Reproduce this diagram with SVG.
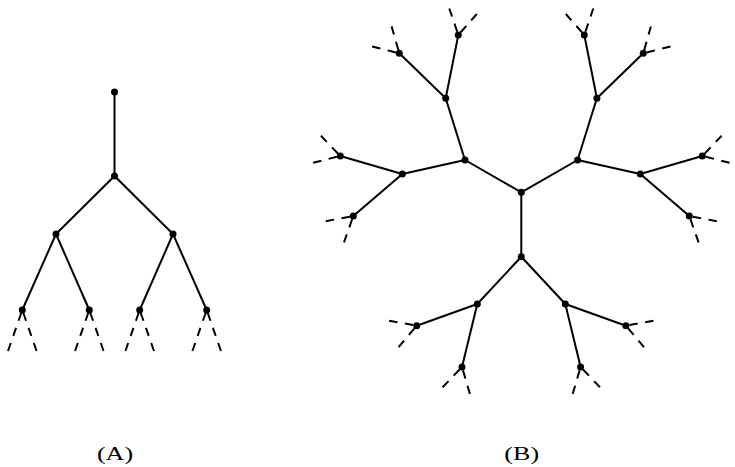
<svg xmlns="http://www.w3.org/2000/svg" width="735" height="467" viewBox="0 0 735 467">
<style>
.e{stroke:#000;stroke-width:2;fill:none;stroke-linecap:butt}
.d{stroke:#000;stroke-width:2;fill:none;stroke-dasharray:8.5 7.5}
.n{fill:#000}
.t{font-family:"Liberation Serif","Times New Roman",serif;font-size:19.3px;fill:#000;text-anchor:middle}
</style>
<rect width="735" height="467" fill="#fff"/>
<g id="connectors">
<!-- Tree A -->
<line class="e" x1="114.5" y1="92" x2="114.5" y2="176"/>
<line class="e" x1="114.5" y1="176" x2="56" y2="234"/>
<line class="e" x1="114.5" y1="176" x2="173" y2="234"/>
<line class="e" x1="56" y1="234" x2="22.3" y2="310"/>
<line class="e" x1="56" y1="234" x2="89.3" y2="310"/>
<line class="e" x1="173" y1="234" x2="139.7" y2="310"/>
<line class="e" x1="173" y1="234" x2="206.7" y2="310"/>
<line class="d" x1="8" y1="351" x2="22.3" y2="310"/>
<line class="d" x1="36.6" y1="351" x2="22.3" y2="310"/>
<line class="d" x1="75" y1="351" x2="89.3" y2="310"/>
<line class="d" x1="103.6" y1="351" x2="89.3" y2="310"/>
<line class="d" x1="125.4" y1="351" x2="139.7" y2="310"/>
<line class="d" x1="154" y1="351" x2="139.7" y2="310"/>
<line class="d" x1="192.4" y1="351" x2="206.7" y2="310"/>
<line class="d" x1="221" y1="351" x2="206.7" y2="310"/>
<!-- Tree B -->
<line class="e" x1="521.3" y1="192.3" x2="521.3" y2="256.7"/>
<line class="e" x1="521.3" y1="192.3" x2="465" y2="160"/>
<line class="e" x1="521.3" y1="192.3" x2="577.6" y2="160"/>
<line class="e" x1="465" y1="160" x2="445.7" y2="98.3"/>
<line class="e" x1="465" y1="160" x2="402.3" y2="174"/>
<line class="e" x1="445.7" y1="98.3" x2="458.3" y2="35"/>
<line class="e" x1="445.7" y1="98.3" x2="399.3" y2="53.3"/>
<line class="e" x1="402.3" y1="174" x2="340.3" y2="156"/>
<line class="e" x1="402.3" y1="174" x2="353.3" y2="216"/>
<line class="e" x1="577.6" y1="160" x2="596.9" y2="98.3"/>
<line class="e" x1="577.6" y1="160" x2="640.3" y2="174"/>
<line class="e" x1="596.9" y1="98.3" x2="584.3" y2="35"/>
<line class="e" x1="596.9" y1="98.3" x2="643.3" y2="53.3"/>
<line class="e" x1="640.3" y1="174" x2="702.3" y2="156"/>
<line class="e" x1="640.3" y1="174" x2="689.3" y2="216"/>
<line class="e" x1="521.3" y1="256.7" x2="477.3" y2="304"/>
<line class="e" x1="521.3" y1="256.7" x2="565.3" y2="304"/>
<line class="e" x1="477.3" y1="304" x2="416.7" y2="325.7"/>
<line class="e" x1="477.3" y1="304" x2="462" y2="367"/>
<line class="e" x1="565.3" y1="304" x2="625.9" y2="325.7"/>
<line class="e" x1="565.3" y1="304" x2="580.6" y2="367"/>
<line class="d" x1="476.8" y1="14" x2="458.3" y2="35"/>
<line class="d" x1="449.3" y1="8.5" x2="458.3" y2="35"/>
<line class="d" x1="391.6" y1="26.4" x2="399.3" y2="53.3"/>
<line class="d" x1="372.1" y1="46.5" x2="399.3" y2="53.3"/>
<line class="d" x1="320.9" y1="135.8" x2="340.3" y2="156"/>
<line class="d" x1="313.1" y1="162.7" x2="340.3" y2="156"/>
<line class="d" x1="325.8" y1="221.2" x2="353.3" y2="216"/>
<line class="d" x1="344" y1="242.4" x2="353.3" y2="216"/>
<line class="d" x1="565.8" y1="14" x2="584.3" y2="35"/>
<line class="d" x1="593.3" y1="8.5" x2="584.3" y2="35"/>
<line class="d" x1="650.9" y1="26.4" x2="643.3" y2="53.3"/>
<line class="d" x1="670.5" y1="46.5" x2="643.3" y2="53.3"/>
<line class="d" x1="721.7" y1="135.8" x2="702.3" y2="156"/>
<line class="d" x1="729.5" y1="162.7" x2="702.3" y2="156"/>
<line class="d" x1="716.8" y1="221.2" x2="689.3" y2="216"/>
<line class="d" x1="698.6" y1="242.4" x2="689.3" y2="216"/>
<line class="d" x1="389.1" y1="320.7" x2="416.7" y2="325.7"/>
<line class="d" x1="398.6" y1="347.1" x2="416.7" y2="325.7"/>
<line class="d" x1="442.6" y1="387.2" x2="462" y2="367"/>
<line class="d" x1="469.9" y1="393.9" x2="462" y2="367"/>
<line class="d" x1="653.5" y1="320.7" x2="625.9" y2="325.7"/>
<line class="d" x1="644" y1="347.1" x2="625.9" y2="325.7"/>
<line class="d" x1="600" y1="387.2" x2="580.6" y2="367"/>
<line class="d" x1="572.7" y1="393.9" x2="580.6" y2="367"/>
</g>
<g id="nodesA">
<g id="a0"><circle class="n" cx="114.5" cy="92" r="3.5"/></g>
<g id="a1"><circle class="n" cx="114.5" cy="176" r="3.5"/></g>
<g id="a2"><circle class="n" cx="56" cy="234" r="3.5"/></g>
<g id="a3"><circle class="n" cx="173" cy="234" r="3.5"/></g>
<g id="a4"><circle class="n" cx="22.3" cy="310" r="3.5"/></g>
<g id="a5"><circle class="n" cx="89.3" cy="310" r="3.5"/></g>
<g id="a6"><circle class="n" cx="139.7" cy="310" r="3.5"/></g>
<g id="a7"><circle class="n" cx="206.7" cy="310" r="3.5"/></g>
</g>
<g id="nodesB">
<g id="b0"><circle class="n" cx="521.3" cy="192.3" r="3.5"/></g>
<g id="b1"><circle class="n" cx="521.3" cy="256.7" r="3.5"/></g>
<g id="b2"><circle class="n" cx="465" cy="160" r="3.5"/></g>
<g id="b3"><circle class="n" cx="445.7" cy="98.3" r="3.5"/></g>
<g id="b4"><circle class="n" cx="402.3" cy="174" r="3.5"/></g>
<g id="b5"><circle class="n" cx="458.3" cy="35" r="3.5"/></g>
<g id="b6"><circle class="n" cx="399.3" cy="53.3" r="3.5"/></g>
<g id="b7"><circle class="n" cx="340.3" cy="156" r="3.5"/></g>
<g id="b8"><circle class="n" cx="353.3" cy="216" r="3.5"/></g>
<g id="b9"><circle class="n" cx="577.6" cy="160" r="3.5"/></g>
<g id="b10"><circle class="n" cx="596.9" cy="98.3" r="3.5"/></g>
<g id="b11"><circle class="n" cx="640.3" cy="174" r="3.5"/></g>
<g id="b12"><circle class="n" cx="584.3" cy="35" r="3.5"/></g>
<g id="b13"><circle class="n" cx="643.3" cy="53.3" r="3.5"/></g>
<g id="b14"><circle class="n" cx="702.3" cy="156" r="3.5"/></g>
<g id="b15"><circle class="n" cx="689.3" cy="216" r="3.5"/></g>
<g id="b16"><circle class="n" cx="477.3" cy="304" r="3.5"/></g>
<g id="b17"><circle class="n" cx="565.3" cy="304" r="3.5"/></g>
<g id="b18"><circle class="n" cx="416.7" cy="325.7" r="3.5"/></g>
<g id="b19"><circle class="n" cx="462" cy="367" r="3.5"/></g>
<g id="b20"><circle class="n" cx="625.9" cy="325.7" r="3.5"/></g>
<g id="b21"><circle class="n" cx="580.6" cy="367" r="3.5"/></g>
</g>
<g id="labels">
<text class="t" transform="translate(115,459.5) scale(1.35,1)">(A)</text>
<text class="t" transform="translate(521.7,459.5) scale(1.35,1)">(B)</text>
</g>
</svg>
